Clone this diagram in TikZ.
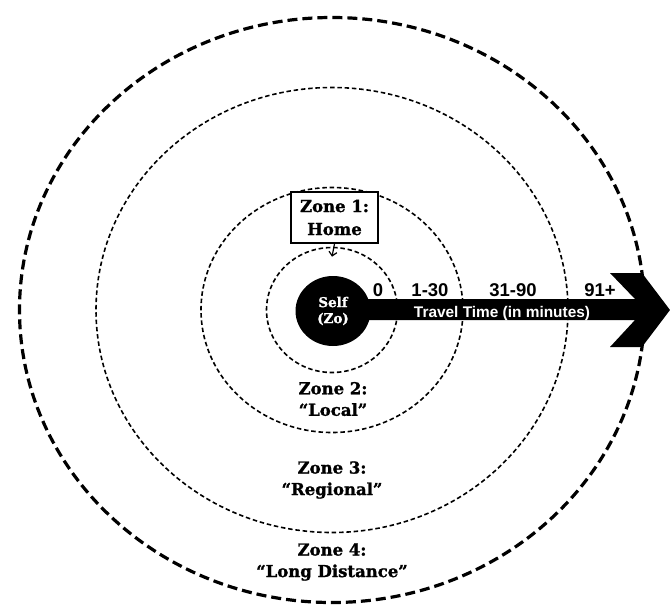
\documentclass[tikz,border=0pt]{standalone}
\usepackage{fontspec}
\setmainfont{DejaVu Serif}[BoldFeatures={FakeBold=1.3}]
\newfontfamily\arialfont{Liberation Sans}
\usetikzlibrary{arrows.meta,positioning,shapes.geometric}
\tikzset{
    ring/.style 2 args={ellipse, draw, line width=1.6pt, dash pattern=on 4.5pt off 2.8pt,
                        inner sep=0pt, minimum width=#1, minimum height=#2},
    outerring/.style 2 args={ring={#1}{#2}, line width=3.2pt, dash pattern=on 10pt off 5pt},
    selfdisk/.style={ellipse, fill=black, text=white, inner sep=0pt, align=center,
                     minimum width=75pt, minimum height=70pt,
                     font=\bfseries\fontsize{13.5}{16}\selectfont},
    homebox/.style={rectangle, draw, fill=white, line width=1.6pt, align=center,
                    minimum width=87pt, minimum height=51pt, inner sep=2pt,
                    font=\bfseries\fontsize{16.5}{23}\selectfont},
    zonelbl/.style={align=center, font=\bfseries\fontsize{16.5}{21.5}\selectfont},
    timelbl/.style={anchor=base, font=\arialfont\bfseries\fontsize{18.5}{20}\selectfont},
    axislbl/.style={anchor=base, text=white, font=\arialfont\bfseries\fontsize{15.4}{18}\selectfont},
    ptr/.style={-{Straight Barb[length=4pt,width=8pt]}, line width=1.2pt},
}

\begin{document}
\begin{tikzpicture}[x=1pt, y=-1pt]
    \useasboundingbox (0,0) rectangle (670,606);
    \coordinate (ctr) at (332,310);

    % zones
    \node[outerring={625pt}{585pt}] (ring4) at (ctr) {};
    \node[ring={472pt}{445pt}]      (ring3) at (ctr) {};
    \node[ring={262pt}{245pt}]      (ring2) at (ctr) {};
    \node[ring={131pt}{125pt}]      (ring1) at (ctr) {};

    % travel time axis
    \coordinate (tip) at (670,310);
    \fill (332,299) -- (635,299) -- (610,273) -- (642,273) -- (tip)
          -- (642,347) -- (610,347) -- (635,320) -- (332,320) -- cycle;
    \node[selfdisk] (self) at (333,311) {Self\\(Zo)};

    \node[timelbl] (t0)  at (378,296.5) {0};
    \node[timelbl] (t1)  at (430,296.5) {1-30};
    \node[timelbl] (t2)  at (513,296.5) {31-90};
    \node[timelbl] (t3)  at (600,296.5) {91+};
    \node[axislbl] (axis) at (502,317) {Travel Time (in minutes)};

    % zone labels
    \node[homebox] (home) at (334.5,217.5) {Zone 1:\\Home};
    \draw[ptr] (home.south) -- ([yshift=-10pt]ring1.north);

    \node[zonelbl] (local)    at (333,399) {Zone 2:\\“Local”};
    \node[zonelbl] (regional) at (332,480) {Zone 3:\\“Regional”};
    \node[zonelbl] (longdist) at (332,562) {Zone 4:\\“Long Distance”};
\end{tikzpicture}
\end{document}
